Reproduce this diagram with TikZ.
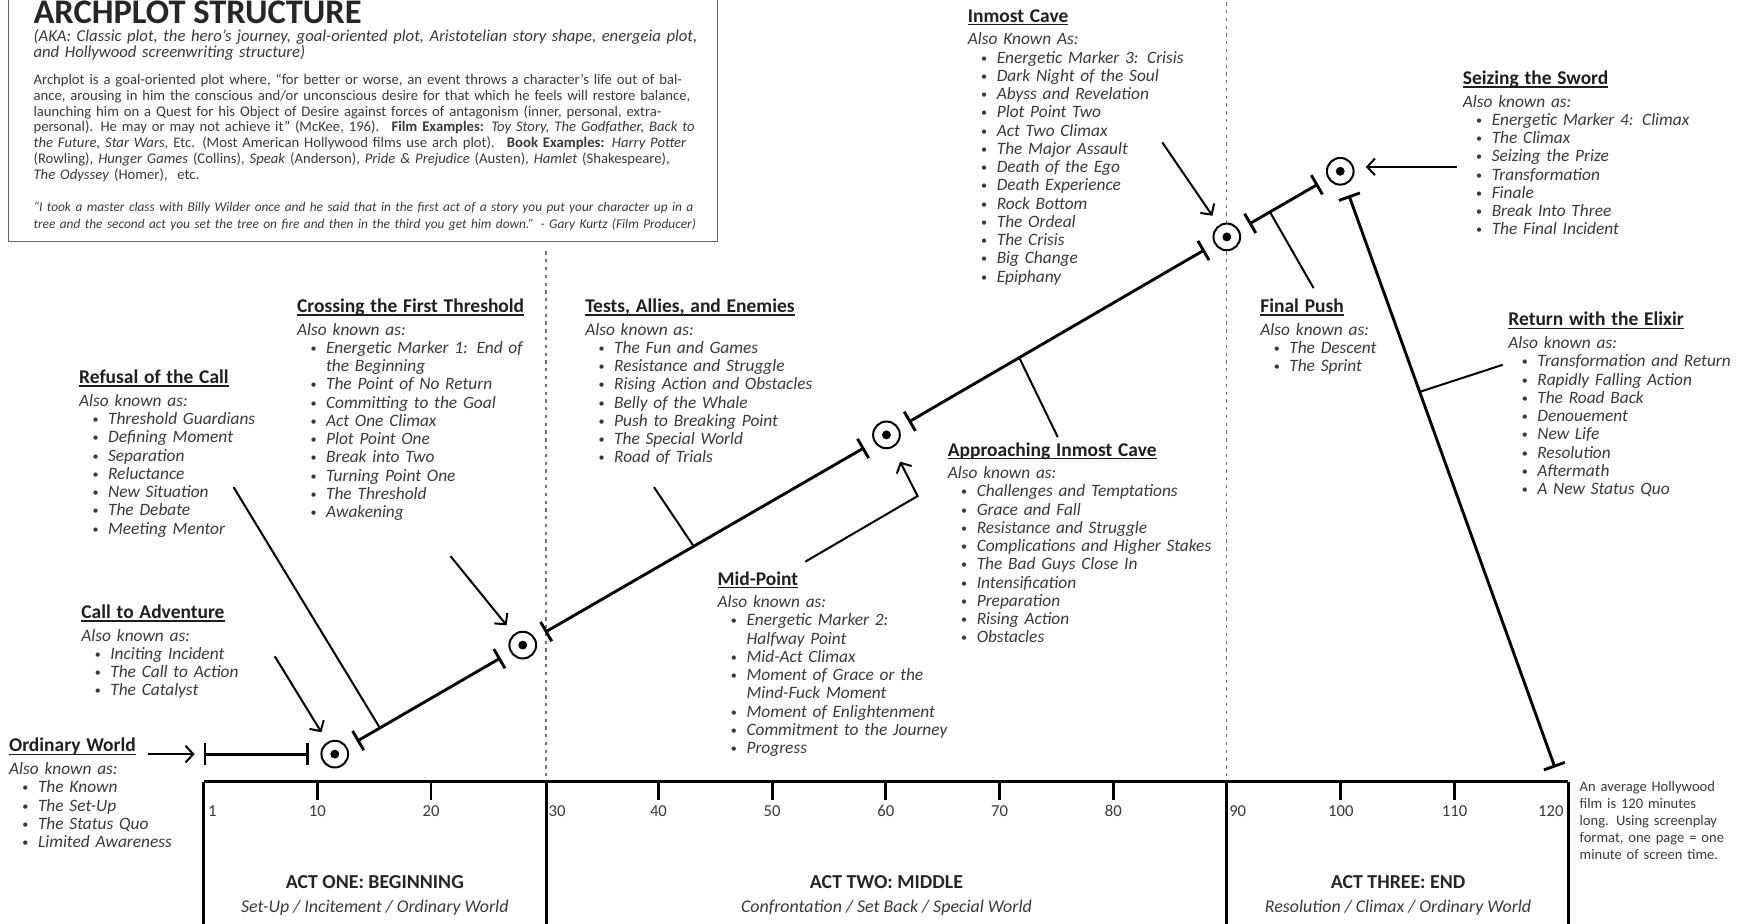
\documentclass[tikz,border=0pt]{standalone}
\usepackage{fontspec}
\usepackage{graphicx}
\setmainfont{Carlito}
\usetikzlibrary{arrows.meta,calc}

\definecolor{ink}{HTML}{3A3A3A}

\def\uline#1{\setbox0\hbox{#1}\rlap{\rule[-2.8pt]{\wd0}{1.3pt}}\box0}
\def\sthead#1{\noindent{\bfseries\fontsize{17.5}{16.4}\selectfont\color{black!88}\uline{#1}}\par\vspace{4pt}}
\def\stalso#1{\noindent{\itshape #1}\par}
\def\stitem#1{\hangindent=26pt\hangafter=1\noindent\hspace*{12pt}\makebox[14pt][l]{\raisebox{0.12ex}{\scalebox{0.7}{\textbullet}}}{\itshape #1}\par}
\def\beat#1#2{%
  \draw (#2) node[beat] (#1) {};
  \fill (#1) circle (4pt);
}

\begin{document}
\begin{tikzpicture}[x=1pt,y=-1pt,
  stage/.style={anchor=base west,inner sep=0pt,text width=300pt,align=left,text=ink,font=\fontsize{15.6}{16.4}\selectfont},
  beat/.style={circle,draw,fill=white,line width=1.8pt,minimum size=24pt,inner sep=0pt,outer sep=11pt},
  seg/.style={line width=2.6pt,{Bar[width=20pt]}-{Bar[width=20pt]}},
  ptr/.style={line width=1.8pt,-{Straight Barb[length=7pt,width=15pt,line width=1.8pt]}},
  lead/.style={line width=1.8pt},
  actline/.style={dash pattern=on 3pt off 4pt,line width=1.2pt,black!55},
  ruler/.style={line width=2.6pt},
  num/.style={anchor=base,inner sep=0pt,text=ink,font=\fontsize{15}{16}\selectfont},
  acthead/.style={anchor=base,inner sep=0pt,text=black!85,font=\bfseries\fontsize{17.8}{19}\selectfont},
  actsub/.style={anchor=base,inner sep=0pt,text=ink,font=\itshape\fontsize{16.1}{17}\selectfont},
  tbox/.style={line width=1pt,black!60}]
\path[use as bounding box,fill=white] (0,0) rectangle (1568,830);

% title box
\draw[tbox] (8,-5) rectangle (645,217);
\draw (30,21) node[anchor=base west,inner sep=0pt,text=black!85,font=\bfseries\fontsize{31}{32}\selectfont] (title) {ARCHPLOT STRUCTURE};
\draw (30,37.5) node[anchor=base west,inner sep=0pt,text width=610pt,align=left,text=ink,font=\itshape\fontsize{15}{14}\selectfont] (aka)
  {(AKA: Classic plot, the hero’s journey, goal-oriented plot, Aristotelian story shape, energeia plot,\\and Hollywood screenwriting structure)};
\draw (30,76) node[anchor=base west,inner sep=0pt,text width=610pt,align=left,text=ink,font=\fontsize{13.2}{14.2}\selectfont] (about)
  {Archplot is a goal-oriented plot where, “for better or worse, an event throws a character’s life out of bal-\\
   ance, arousing in him the conscious and/or unconscious desire for that which he feels will restore balance,\\
   launching him on a Quest for his Object of Desire against forces of antagonism (inner, personal, extra-\\
   personal). He may or may not achieve it” (McKee, 196). \ \textbf{Film Examples:} \textit{Toy Story, The Godfather, Back to}\\
   \textit{the Future, Star Wars}, Etc. (Most American Hollywood films use arch plot). \ \textbf{Book Examples:} \textit{Harry Potter}\\
   (Rowling), \textit{Hunger Games} (Collins), \textit{Speak} (Anderson), \textit{Pride \& Prejudice} (Austen), \textit{Hamlet} (Shakespeare),\\
   \textit{The Odyssey} (Homer), \ etc.};
\draw (30,190) node[anchor=base west,inner sep=0pt,text width=610pt,align=left,text=ink,font=\itshape\fontsize{12}{15}\selectfont] (quote)
  {“I took a master class with Billy Wilder once and he said that in the first act of a story you put your character up in a\\
   tree and the second act you set the tree on fire and then in the third you get him down.” - Gary Kurtz (Film Producer)};

% act dividers
\draw[actline] (491,226) -- (491,703);
\draw[actline] (1103,-5) -- (1103,703);

% timeline
\draw[ruler] (183,703) -- (1410,703);
\draw[ruler] (183,703) -- (183,840);
\draw[ruler] (491,703) -- (491,840);
\draw[ruler] (1103,703) -- (1103,840);
\draw[ruler] (1410,703) -- (1410,840);
\foreach \m in {10,20,40,50,60,70,80,100,110}{
  \draw[ruler] ({183+10.225*\m},703) -- ++(0,16);
  \draw ({183+10.225*\m},734) node[num] {\m};
}
\draw (187,734) node[num,anchor=base west] (m1) {1};
\draw (493,734) node[num,anchor=base west] (m30) {30};
\draw (1105,734) node[num,anchor=base west] (m90) {90};
\draw (1406,734) node[num,anchor=base east] (m120) {120};
\draw (337,799) node[acthead] (a1) {ACT ONE: BEGINNING};
\draw (337,820) node[actsub] (a1s) {Set-Up / Incitement / Ordinary World};
\draw (797,799) node[acthead] (a2) {ACT TWO: MIDDLE};
\draw (797,820) node[actsub] (a2s) {Confrontation / Set Back / Special World};
\draw (1257,799) node[acthead] (a3) {ACT THREE: END};
\draw (1257,820) node[actsub] (a3s) {Resolution / Climax / Ordinary World};
\draw (1420,712) node[anchor=base west,inner sep=0pt,text width=150pt,align=left,text=ink,font=\fontsize{13.1}{15.3}\selectfont] (note)
  {An average Hollywood\\film is 120 minutes\\long. Using screenplay\\format, one page = one\\minute of screen time.};

% the arch
\coordinate (s0) at (183,678);
\coordinate (s6) at (1398,690);
\beat{c1}{301,678}
\beat{c2}{470,580}
\beat{c3}{797,391}
\beat{c4}{1103,213}
\beat{c5}{1205,154}
\draw[seg] (s0) -- (c1);
\draw[seg] (c1) -- (c2);
\draw[seg] (c2) -- (c3);
\draw[seg] (c3) -- (c4);
\draw[seg] (c4) -- (c5);
\draw[seg] (c5) -- (s6);

% pointers
\coordinate (owt) at (133,678);
\coordinate (ctat) at (247,590);
\coordinate (rct) at (210,438);
\coordinate (rcj) at ($(c1)!0.24!(c2)$);
\coordinate (ctt) at (405,500);
\coordinate (taet) at (588,438);
\coordinate (taej) at ($(c2)!0.47!(c3)$);
\coordinate (mpt) at (724,505);
\coordinate (mpb) at (825,446);
\coordinate (aict) at (951,393);
\coordinate (aicj) at ($(c3)!0.39!(c4)$);
\coordinate (ict) at (1045,128);
\coordinate (fpt) at (1181,259);
\coordinate (fpj) at ($(c4)!0.38!(c5)$);
\coordinate (sst) at (1310,150);
\coordinate (ret) at (1351,328);
\coordinate (rej) at ($(c5)!0.37!(s6)$);
\draw[ptr,shorten >=8pt] (owt) -- (s0);
\draw[ptr] (ctat) -- (c1);
\draw[lead] (rct) -- (rcj);
\draw[ptr] (ctt) -- (c2);
\draw[lead] (taet) -- (taej);
\draw[ptr,shorten >=4pt] (mpt) -- (mpb) -- (c3);
\draw[lead] (aict) -- (aicj);
\draw[ptr] (ict) -- (c4);
\draw[lead] (fpt) -- (fpj);
\draw[ptr] (sst) -- (sst -| c5.east);
\draw[lead] (ret) -- (rej);

% stages
\draw (8,676) node[stage] (ow) {\sthead{Ordinary World}\stalso{Also known as:}
  \stitem{The Known}\stitem{The Set-Up}\stitem{The Status Quo}\stitem{Limited Awareness}};
\draw (73,556) node[stage] (cta) {\sthead{Call to Adventure}\stalso{Also known as:}
  \stitem{Inciting Incident}\stitem{The Call to Action}\stitem{The Catalyst}};
\draw (71,345) node[stage] (rc) {\sthead{Refusal of the Call}\stalso{Also known as:}
  \stitem{Threshold Guardians}\stitem{Defining Moment}\stitem{Separation}\stitem{Reluctance}
  \stitem{New Situation}\stitem{The Debate}\stitem{Meeting Mentor}};
\draw (267,281) node[stage] (ct) {\sthead{Crossing the First Threshold}\stalso{Also known as:}
  \stitem{Energetic Marker 1: End of\newline the Beginning}\stitem{The Point of No Return}
  \stitem{Committing to the Goal}\stitem{Act One Climax}\stitem{Plot Point One}
  \stitem{Break into Two}\stitem{Turning Point One}\stitem{The Threshold}\stitem{Awakening}};
\draw (526,281) node[stage] (tae) {\sthead{Tests, Allies, and Enemies}\stalso{Also known as:}
  \stitem{The Fun and Games}\stitem{Resistance and Struggle}\stitem{Rising Action and Obstacles}
  \stitem{Belly of the Whale}\stitem{Push to Breaking Point}\stitem{The Special World}\stitem{Road of Trials}};
\draw (645,526) node[stage] (mp) {\sthead{Mid-Point}\stalso{Also known as:}
  \stitem{Energetic Marker 2:\newline Halfway Point}\stitem{Mid-Act Climax}
  \stitem{Moment of Grace or the\newline Mind-Fuck Moment}\stitem{Moment of Enlightenment}
  \stitem{Commitment to the Journey}\stitem{Progress}};
\draw (852,410) node[stage] (aic) {\sthead{Approaching Inmost Cave}\stalso{Also known as:}
  \stitem{Challenges and Temptations}\stitem{Grace and Fall}\stitem{Resistance and Struggle}
  \stitem{Complications and Higher Stakes}\stitem{The Bad Guys Close In}\stitem{Intensification}
  \stitem{Preparation}\stitem{Rising Action}\stitem{Obstacles}};
\draw (870,20) node[stage] (ic) {\sthead{Inmost Cave}\stalso{Also Known As:}
  \stitem{Energetic Marker 3: Crisis}\stitem{Dark Night of the Soul}\stitem{Abyss and Revelation}
  \stitem{Plot Point Two}\stitem{Act Two Climax}\stitem{The Major Assault}\stitem{Death of the Ego}
  \stitem{Death Experience}\stitem{Rock Bottom}\stitem{The Ordeal}\stitem{The Crisis}
  \stitem{Big Change}\stitem{Epiphany}};
\draw (1315,76) node[stage] (ss) {\sthead{Seizing the Sword}\stalso{Also known as:}
  \stitem{Energetic Marker 4: Climax}\stitem{The Climax}\stitem{Seizing the Prize}
  \stitem{Transformation}\stitem{Finale}\stitem{Break Into Three}\stitem{The Final Incident}};
\draw (1133,281) node[stage] (fp) {\sthead{Final Push}\stalso{Also known as:}
  \stitem{The Descent}\stitem{The Sprint}};
\draw (1356,293) node[stage] (re) {\sthead{Return with the Elixir}\stalso{Also known as:}
  \stitem{Transformation and Return}\stitem{Rapidly Falling Action}\stitem{The Road Back}
  \stitem{Denouement}\stitem{New Life}\stitem{Resolution}\stitem{Aftermath}\stitem{A New Status Quo}};
\end{tikzpicture}
\end{document}
